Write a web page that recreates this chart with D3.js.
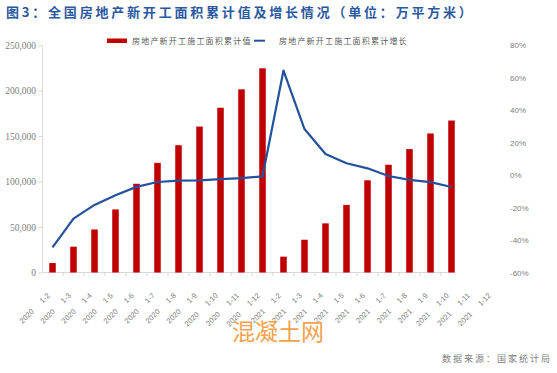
<!DOCTYPE html>
<html>
<head>
<meta charset="utf-8">
<script src="https://cdn.jsdelivr.net/npm/d3@7"></script>
<style>
	body { margin: 0; background: #fff; }
	svg { display: block; }
</style>
</head>
<body>
<script>
// category labels: year + cumulative period
var labelYears = ['2020', '2020', '2020', '2020', '2020', '2020', '2020', '2020', '2020', '2020', '2020',
	'2021', '2021', '2021', '2021', '2021', '2021', '2021', '2021', '2021', '2021', '2021'];
var labelPeriods = ['1-2', '1-3', '1-4', '1-5', '1-6', '1-7', '1-8', '1-9', '1-10', '1-11', '1-12',
	'1-2', '1-3', '1-4', '1-5', '1-6', '1-7', '1-8', '1-9', '1-10', '1-11', '1-12'];

// cumulative new construction area (10k m2), only up to 2021 1-10
var areaValues = [10400, 28400, 47300, 69300, 97500, 120500, 139900, 160400, 181000, 201300, 224400,
	17400, 36000, 54000, 74300, 101300, 118400, 135600, 152800, 167000];
// cumulative growth, percent
var growthValues = [-44.6, -26.8, -18.4, -12.5, -7.3, -4.3, -3.5, -3.3, -2.5, -1.9, -0.9,
	64.3, 28.3, 12.9, 7.2, 4.1, -0.6, -3.0, -4.4, -7.4];

var leftTicks = [0, 50000, 100000, 150000, 200000, 250000];
var rightTicks = [-60, -40, -20, 0, 20, 40, 60, 80];

var width = 557,
	height = 373;

var svg = d3.select('body').append('svg')
	.attr('width', width)
	.attr('height', height);

// plot box (note: 'top' is taken by window.top, so use other names)
var plotLeft = 42, plotTop = 45, plotBottom = 272.5, step = 21;

var categories = labelYears.map(function(y, i) { return y + ' ' + labelPeriods[i]; });

var xScale = d3.scaleBand()
	.domain(categories)
	.range([plotLeft, plotLeft + categories.length * step])
	.paddingInner(0.69)
	.paddingOuter(0.345);

var yLeft = d3.scaleLinear().domain([0, 250000]).range([plotBottom, plotTop]);
var yRight = d3.scaleLinear().domain([-60, 80]).range([plotBottom, plotTop]);

function cx(i) {
	return xScale(categories[i]) + xScale.bandwidth() / 2;
}

// title
svg.append('text')
	.attr('x', 6)
	.attr('y', 17)
	.style('font-family', '"Noto Sans CJK SC", sans-serif')
	.style('font-weight', 'bold')
	.style('font-size', '13px')
	.style('letter-spacing', '2.8px')
	.style('fill', '#2b579f')
	.text('图3：全国房地产新开工面积累计值及增长情况（单位：万平方米）');

// legend
var legend = svg.append('g')
	.style('font-family', '"Noto Sans CJK SC", sans-serif')
	.style('font-size', '8px')
	.style('letter-spacing', '1.2px')
	.style('fill', '#595959');
legend.append('rect')
	.attr('x', 107).attr('y', 38.5)
	.attr('width', 20).attr('height', 4.5)
	.style('fill', '#c00000');
legend.append('text')
	.attr('x', 132).attr('y', 44)
	.text('房地产新开工施工面积累计值');
legend.append('line')
	.attr('x1', 254).attr('x2', 265)
	.attr('y1', 40.7).attr('y2', 40.7)
	.style('stroke', '#24519c')
	.style('stroke-width', 2);
legend.append('text')
	.attr('x', 279).attr('y', 44)
	.text('房地产新开工施工面积累计增长');

// left axis
var gLeft = svg.append('g')
	.attr('transform', 'translate(' + plotLeft + ',0)')
	.call(d3.axisLeft(yLeft).tickValues(leftTicks).tickSize(3).tickSizeOuter(0).tickPadding(3));
gLeft.select('.domain').style('stroke', '#d9d9d9');
gLeft.selectAll('.tick line').style('stroke', '#d9d9d9');
gLeft.selectAll('.tick text')
	.style('font-family', '"Liberation Serif", serif')
	.style('font-size', '9.5px')
	.style('fill', '#808080');

// right axis (labels only)
var gRight = svg.append('g')
	.attr('transform', 'translate(' + (plotLeft + categories.length * step) + ',0)')
	.call(d3.axisRight(yRight).tickValues(rightTicks).tickSize(0).tickPadding(6)
		.tickFormat(function(d) { return d + '%'; }));
gRight.select('.domain').remove();
gRight.selectAll('.tick text')
	.style('font-family', '"Liberation Sans", sans-serif')
	.style('font-size', '8px')
	.style('fill', '#808080');

// bottom axis line and boundary ticks
var lastData = areaValues.length - 1;
svg.append('line')
	.attr('x1', plotLeft)
	.attr('x2', xScale(categories[lastData]) + xScale.bandwidth())
	.attr('y1', plotBottom).attr('y2', plotBottom)
	.style('stroke', '#d9d9d9');
svg.selectAll('.xtick')
	.data(d3.range(1, areaValues.length))
	.enter().append('line')
	.attr('class', 'xtick')
	.attr('x1', function(i) { return plotLeft + i * xScale.step(); })
	.attr('x2', function(i) { return plotLeft + i * xScale.step(); })
	.attr('y1', plotBottom).attr('y2', plotBottom + 4)
	.style('stroke', '#d9d9d9');

// rotated category labels
var xl = svg.selectAll('.xlabel')
	.data(categories)
	.enter().append('text')
	.attr('class', 'xlabel')
	.attr('transform', function(d, i) {
		return 'translate(' + (cx(i) - 2) + ',' + (plotBottom + 23.5) + ') rotate(-45)';
	})
	.attr('text-anchor', 'end')
	.style('font-family', '"Liberation Sans", sans-serif')
	.style('font-size', '7.5px')
	.style('fill', '#808080');
xl.append('tspan').text(function(d, i) { return labelYears[i]; });
xl.append('tspan').attr('dx', 12).text(function(d, i) { return labelPeriods[i]; });

// bars
svg.selectAll('.bar')
	.data(areaValues)
	.enter().append('rect')
	.attr('class', 'bar')
	.attr('x', function(d, i) { return xScale(categories[i]); })
	.attr('y', function(d) { return yLeft(d); })
	.attr('width', xScale.bandwidth())
	.attr('height', function(d) { return plotBottom - yLeft(d); })
	.style('fill', '#c00000');

// growth line
var line = d3.line()
	.x(function(d, i) { return cx(i); })
	.y(function(d) { return yRight(d); });
svg.append('path')
	.datum(growthValues)
	.attr('d', line)
	.style('fill', 'none')
	.style('stroke', '#24519c')
	.style('stroke-width', 2.2)
	.style('stroke-linejoin', 'round');

// watermark
svg.append('text')
	.attr('x', 232).attr('y', 340)
	.style('font-family', '"Noto Sans CJK SC", sans-serif')
	.style('font-size', '23px')
	.style('fill', '#f4a24e')
	.text('混凝土网');

// source
svg.append('text')
	.attr('x', 552).attr('y', 362)
	.attr('text-anchor', 'end')
	.style('font-family', '"Noto Sans CJK SC", sans-serif')
	.style('font-size', '9px')
	.style('letter-spacing', '2px')
	.style('fill', '#808080')
	.text('数据来源：国家统计局');
</script>
</body>
</html>
